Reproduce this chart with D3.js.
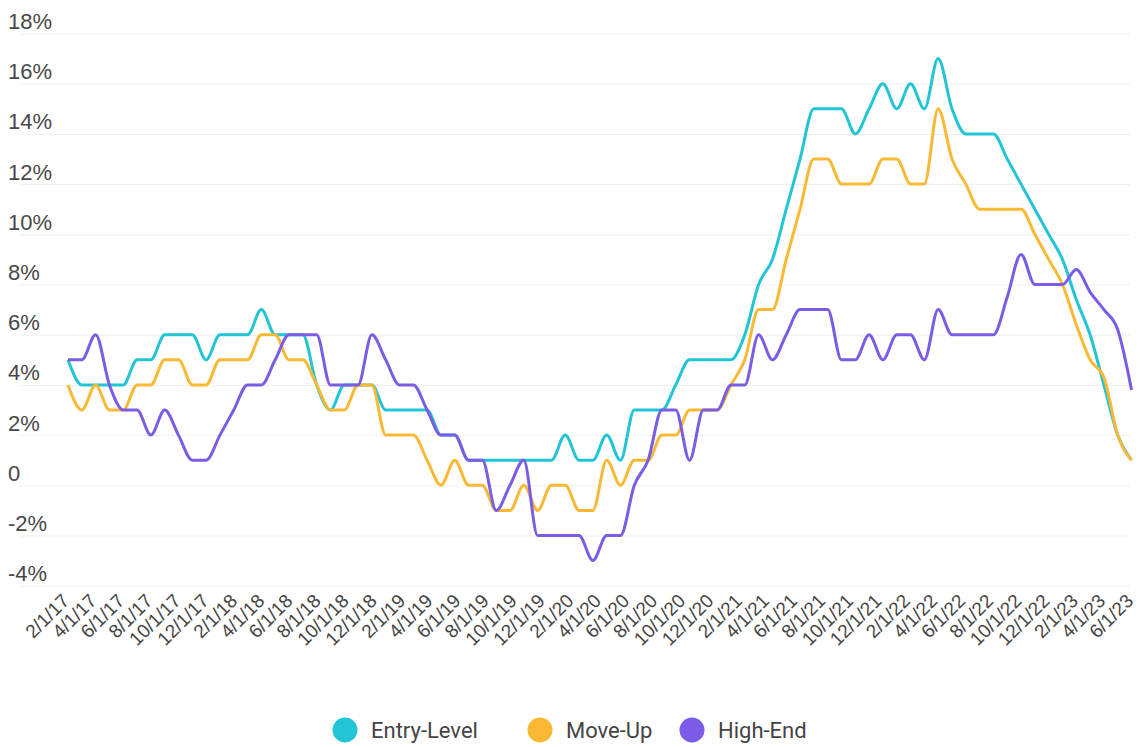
<!DOCTYPE html>
<html>
<head>
<meta charset="utf-8">
<script src="https://cdn.jsdelivr.net/npm/d3@7"></script>
<style>
body { margin: 0; background: #fff; }
svg { display: block; font-family: Roboto, "Noto Sans", sans-serif; }
</style>
</head>
<body>
<svg id="chart" width="1142" height="747"></svg>
<script>
// 78 readings spread evenly over the time axis (2/1/17 .. 6/1/23)
const startDate = new Date(2017, 1, 1), endDate = new Date(2023, 5, 1);
const dates = d3.range(78).map(i => d3.timeDay.offset(startDate, 30 * i));
const tickDates = d3.timeMonth.range(startDate, d3.timeDay.offset(endDate, 1), 2);

const entryLevel = [5, 4, 4, 4, 4, 5, 5, 6, 6, 6, 5, 6, 6, 6, 7, 6, 6, 6, 4, 3,
    4, 4, 4, 3, 3, 3, 3, 2, 2, 1, 1, 1, 1, 1, 1, 1, 2, 1, 1, 2,
    1, 3, 3, 3, 4, 5, 5, 5, 5, 6, 8, 9, 11, 13, 15, 15, 15, 14, 15, 16,
    15, 16, 15, 17, 15, 14, 14, 14, 13, 12, 11, 10, 9, 7.4, 6, 4, 2, 1];

const moveUp = [4, 3, 4, 3, 3, 4, 4, 5, 5, 4, 4, 5, 5, 5, 6, 6, 5, 5, 4, 3,
    3, 4, 4, 2, 2, 2, 1, 0, 1, 0, 0, -1, -1, 0, -1, 0, 0, -1, -1, 1,
    0, 1, 1, 2, 2, 3, 3, 3, 4, 5, 7, 7, 9, 11, 13, 13, 12, 12, 12, 13,
    13, 12, 12, 15, 13, 12, 11, 11, 11, 11, 10, 9, 8, 6.4, 5, 4.3, 2, 1];

const highEnd = [5, 5, 6, 4, 3, 3, 2, 3, 2, 1, 1, 2, 3, 4, 4, 5, 6, 6, 6, 4,
    4, 4, 6, 5, 4, 4, 3, 2, 2, 1, 1, -1, 0, 1, -2, -2, -2, -2, -3, -2,
    -2, 0, 1, 3, 3, 1, 3, 3, 4, 4, 6, 5, 6, 7, 7, 7, 5, 5, 6, 5,
    6, 6, 5, 7, 6, 6, 6, 6, 7.5, 9.2, 8, 8, 8, 8.6, 7.7, 7, 6.2, 3.8];

const seriesNames = ["Entry-Level", "Move-Up", "High-End"];
const seriesColors = ["#21c5d5", "#f9b934", "#7b5ce6"];
const yTicks = [-4, -2, 0, 2, 4, 6, 8, 10, 12, 14, 16, 18];

const svg = d3.select("#chart");

const x = d3.scaleTime()
    .domain([startDate, endDate])
    .range([68, 1132]);

const y = d3.scaleLinear()
    .domain([-4, 18])
    .range([585.7, 33.5]);

// gridlines + y labels
svg.append("g")
    .attr("transform", "translate(20,0)")
    .call(d3.axisRight(y).tickValues(yTicks).tickSize(1110)
        .tickFormat(d => d === 0 ? "0" : d + "%"))
    .call(g => g.select(".domain").remove())
    .call(g => g.selectAll(".tick line").attr("stroke", "#efefef").attr("stroke-width", 1))
    .call(g => g.selectAll(".tick text")
        .attr("x", -12).attr("y", -5).attr("dy", 0)
        .attr("text-anchor", "start")
        .attr("fill", "#484848")
        .style("font-size", "22px"));

// x labels every second month
const fmt = d3.timeFormat("%-m/%-d/%y");
svg.append("g")
    .attr("transform", "translate(2,602)")
    .call(d3.axisBottom(x).tickValues(tickDates).tickSize(0).tickFormat(fmt))
    .call(g => g.select(".domain").remove())
    .call(g => g.selectAll(".tick text")
        .attr("y", 0).attr("dy", 0)
        .attr("transform", "rotate(-45)")
        .attr("text-anchor", "end")
        .attr("fill", "#444")
        .style("font-size", "19px"));

const line = d3.line()
    .x((d, i) => x(dates[i]))
    .y(d => y(d))
    .curve(d3.curveMonotoneX);

[entryLevel, moveUp, highEnd].forEach((vals, k) => {
    svg.append("path")
        .datum(vals)
        .attr("fill", "none")
        .attr("stroke", seriesColors[k])
        .attr("stroke-width", 3)
        .attr("stroke-linejoin", "round")
        .attr("d", line);
});

// legend
const legendX = [345, 540, 692];
const legend = svg.append("g").attr("transform", "translate(0,730)");
seriesNames.forEach((name, k) => {
    legend.append("circle")
        .attr("cx", legendX[k]).attr("cy", 0).attr("r", 12.5)
        .attr("fill", seriesColors[k]);
    legend.append("text")
        .attr("x", legendX[k] + 26).attr("y", 8)
        .attr("fill", "#444")
        .style("font-size", "22px")
        .text(name);
});
</script>
</body>
</html>
